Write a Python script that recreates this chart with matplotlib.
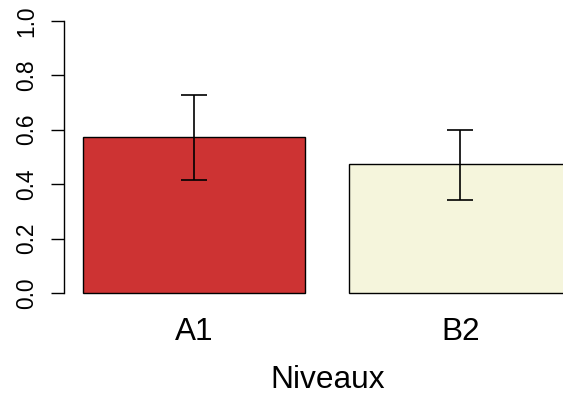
import matplotlib
matplotlib.use("Agg")
import matplotlib.pyplot as plt

categories = ["A1", "B2"]
means = [0.574, 0.474]
err_low = [0.415, 0.342]
err_high = [0.728, 0.599]
colors = ["#CD3333", "#F5F5DC"]
yticks = [0.0, 0.2, 0.4, 0.6, 0.8, 1.0]
ytick_labels = ["0.0", "0.2", "0.4", "0.6", "0.8", "1.0"]

plt.rcParams['font.family'] = ['Liberation Sans', 'DejaVu Sans']

W, H = 563, 399
fig = plt.figure(figsize=(W / 100, H / 100), dpi=100)
left, right = 63.5, 591
top, bottom = 9.9, 303.9
ax = fig.add_axes([left / W, (H - bottom) / H, (right - left) / W, (bottom - top) / H])

centers = [0.7 + 1.2 * i for i in range(len(categories))]
yerr = [[m - lo for m, lo in zip(means, err_low)], [hi - m for m, hi in zip(means, err_high)]]
ax.bar(centers, means, width=1.0, color=colors, edgecolor="black", linewidth=1.0)
ax.errorbar(centers, means, yerr=yerr, fmt="none", ecolor="black", elinewidth=1.2,
            capsize=9.7, capthick=1.2)

ax.set_xlim(0.112, 2.488)
ax.set_ylim(-0.04, 1.04)

for s in ["top", "right", "bottom"]:
    ax.spines[s].set_visible(False)
ax.spines["left"].set_bounds(0, 1)
ax.spines["left"].set_linewidth(1.0)

ax.set_yticks(yticks)
ax.set_yticklabels(ytick_labels, rotation=90, va="center", fontsize=16.4)
ax.tick_params(axis="y", length=9.4, width=1.0, pad=9)

ax.set_xticks(centers)
ax.set_xticklabels(categories, fontsize=22.7)
ax.tick_params(axis="x", length=0, pad=9.5)
ax.set_xlabel("Niveaux", fontsize=22.8, labelpad=13)

fig.savefig("out.png", dpi=100)
